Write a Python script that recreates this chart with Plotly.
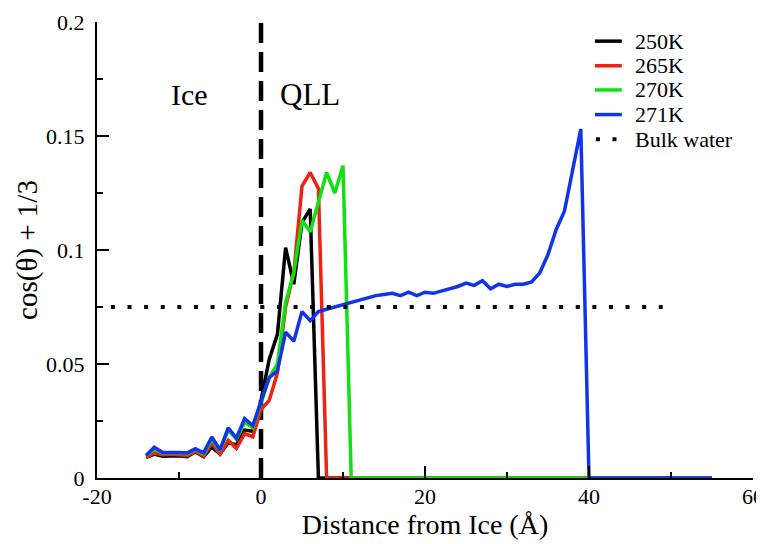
import plotly.graph_objects as go

# ---- data ----
black_x = list(range(-14, 8)) + [55]
black_y = [0.009, 0.0105, 0.0095, 0.0098, 0.0098, 0.0093, 0.0115, 0.0093, 0.0135, 0.0105,
           0.0155, 0.0145, 0.021, 0.0205, 0.034, 0.052, 0.063, 0.101, 0.085, 0.112, 0.118, 0.0,
           0.0]

red_x = list(range(-14, 9)) + [55]
red_y = [0.0092, 0.011, 0.0102, 0.0104, 0.0102, 0.0098, 0.0118, 0.0095, 0.0155, 0.0105,
         0.0165, 0.013, 0.0195, 0.018, 0.030, 0.034, 0.046, 0.075, 0.090, 0.128, 0.134, 0.127,
         0.0, 0.0]

green_x = list(range(-14, 12)) + [55]
green_y = [0.0098, 0.0128, 0.011, 0.0111, 0.011, 0.0107, 0.0125, 0.0105, 0.017, 0.012,
           0.021, 0.017, 0.0245, 0.022, 0.033, 0.044, 0.050, 0.077, 0.090, 0.113, 0.108, 0.121,
           0.134, 0.125, 0.137, 0.0, 0.0]

blue_x = list(range(-14, 41)) + [55]
blue_y = [0.010, 0.0135, 0.0112, 0.0113, 0.0112, 0.011, 0.0128, 0.011, 0.018, 0.0123,
          0.022, 0.0175, 0.026, 0.023, 0.034,
          0.044, 0.047, 0.064, 0.060, 0.073, 0.069, 0.073, 0.074, 0.075, 0.076, 0.077,
          0.078, 0.079, 0.080, 0.0805, 0.081, 0.080, 0.0815, 0.080, 0.0815, 0.081, 0.082,
          0.083, 0.084, 0.0855, 0.0845, 0.0865, 0.083, 0.085, 0.084, 0.085, 0.085,
          0.086, 0.090, 0.098, 0.109, 0.117, 0.136, 0.153, 0.0,
          0.0]

bulk_x = [-18.3, 50]
bulk_y = [0.075, 0.075]

ice_x = [0, 0]
ice_y = [0, 0.2]

series_names = ["250K", "265K", "270K", "271K", "Bulk water"]
series_colors = ["#000000", "#ee2211", "#11e011", "#1133ee", "#000000"]

x_tickvals = [-20, 0, 20, 40, 60]
x_ticktext = ["-20", "0", "20", "40", "60"]
y_tickvals = [0, 0.05, 0.1, 0.15, 0.2]
y_ticktext = ["0", "0.05", "0.1", "0.15", "0.2"]

FONT = "Liberation Serif"
LINE_W = 3.5
BULK_DASH = "4px,12.6px"

fig = go.Figure()

fig.add_trace(go.Scatter(x=ice_x, y=ice_y, mode="lines", showlegend=False,
                         line=dict(color="black", width=4.5, dash="20px,9px")))

for xs, ys, name, col in zip([black_x, red_x, green_x, blue_x],
                             [black_y, red_y, green_y, blue_y],
                             series_names[:4], series_colors[:4]):
    fig.add_trace(go.Scatter(x=xs, y=ys, mode="lines", name=name, showlegend=False,
                             line=dict(color=col, width=LINE_W)))

fig.add_trace(go.Scatter(x=bulk_x, y=bulk_y, mode="lines", name=series_names[4],
                         showlegend=False,
                         line=dict(color="black", width=4, dash=BULK_DASH)))

# ---- legend (top right), drawn in paper coordinates ----
leg_rows_y = [0.958, 0.904, 0.851, 0.797, 0.743]
for i, (name, col) in enumerate(zip(series_names, series_colors)):
    yy = leg_rows_y[i]
    if i < 4:
        fig.add_shape(type="line", xref="paper", yref="paper", x0=0.759, x1=0.800,
                      y0=yy, y1=yy, line=dict(color=col, width=LINE_W))
    else:
        fig.add_shape(type="line", xref="paper", yref="paper", x0=0.7605, x1=0.800,
                      y0=yy, y1=yy, line=dict(color=col, width=4, dash=BULK_DASH))
    fig.add_annotation(xref="paper", yref="paper", x=0.817, y=yy, text=name,
                       showarrow=False, xanchor="left", yanchor="middle",
                       font=dict(family=FONT, size=22, color="black"))

fig.add_annotation(x=-8.7, y=0.168, text="Ice", showarrow=False,
                   font=dict(family=FONT, size=30, color="black"))
fig.add_annotation(x=6.0, y=0.168, text="QLL", showarrow=False,
                   font=dict(family=FONT, size=31, color="black"))

axis_common = dict(
    showline=True, linecolor="black", linewidth=2,
    ticks="inside", ticklen=12, tickwidth=1.5, tickcolor="black",
    showgrid=False, zeroline=False, mirror=False,
    tickfont=dict(family=FONT, size=22, color="black"),
)

fig.update_xaxes(range=[-20, 60], tickvals=x_tickvals, ticktext=x_ticktext,
                 ticklabelstandoff=-2,
                 minor=dict(tickvals=[-10, 10, 30, 50], ticks="inside", ticklen=6,
                            tickwidth=1.5, tickcolor="black"),
                 title=dict(text="Distance from Ice (Å)",
                            font=dict(family=FONT, size=28, color="black"), standoff=1),
                 **axis_common)
fig.update_yaxes(range=[0, 0.2], tickvals=y_tickvals, ticktext=y_ticktext,
                 ticklabelstandoff=6,
                 minor=dict(tickvals=[0.025, 0.075, 0.125, 0.175], ticks="inside", ticklen=6,
                            tickwidth=1.5, tickcolor="black"),
                 title=dict(text="cos(θ) + 1/3",
                            font=dict(family=FONT, size=29, color="black"), standoff=0),
                 **axis_common)

# the page body adds an 8px margin, so the figure is 756x536 to fill the 764x544 window
fig.update_layout(
    width=756, height=536,
    margin=dict(l=89, r=11, t=14, b=66, autoexpand=False),
    paper_bgcolor="white", plot_bgcolor="white",
    showlegend=False,
    font=dict(family=FONT),
)

fig.write_html("out.html")
